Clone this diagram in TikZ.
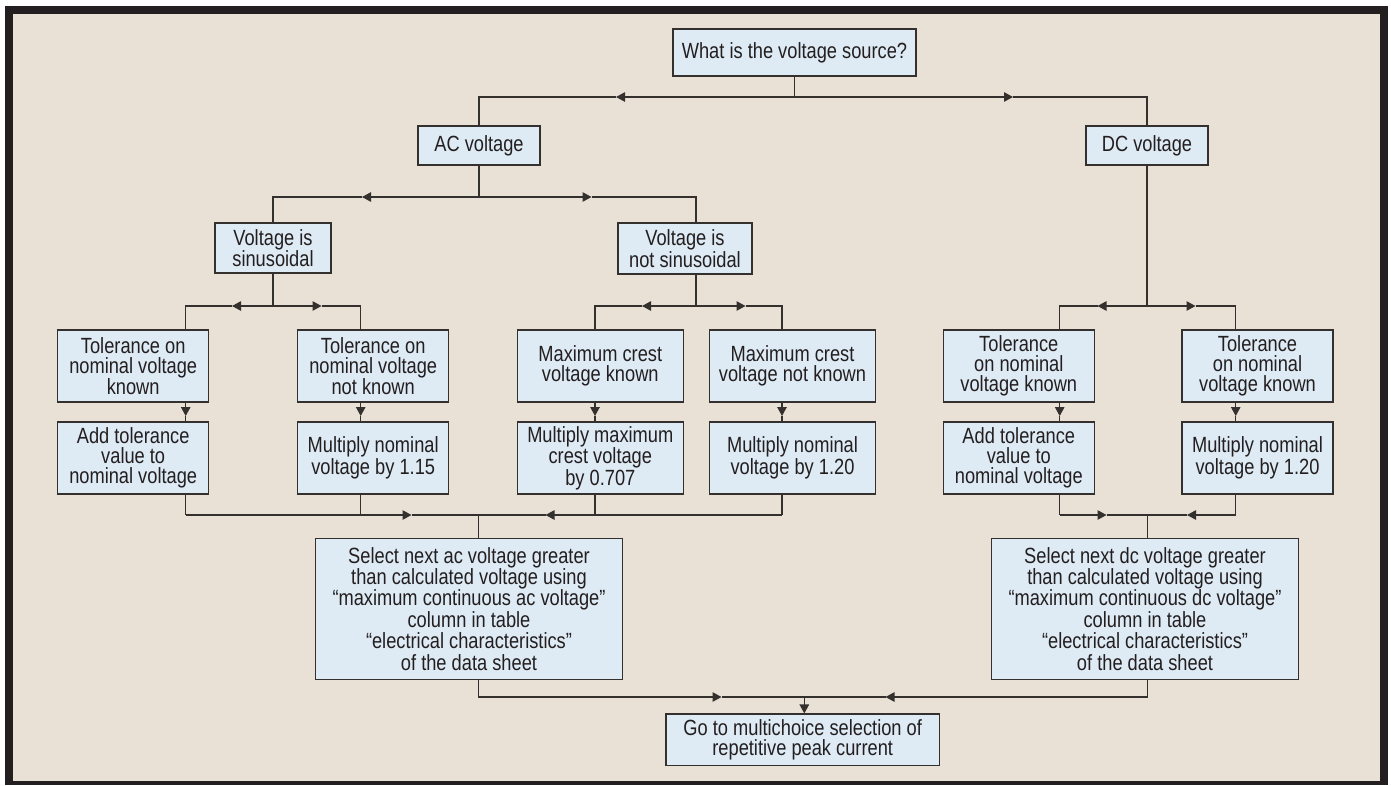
\documentclass[tikz,border=0pt]{standalone}
\usepackage{fontspec}
\setmainfont{Liberation Sans}[FakeStretch=0.83]
\usetikzlibrary{arrows.meta}
\definecolor{bgc}{HTML}{E9E1D6}
\definecolor{boxc}{HTML}{DEEAF4}
\definecolor{linec}{HTML}{33302E}
\definecolor{txtc}{HTML}{231F20}
\begin{document}
\begin{tikzpicture}[x=1pt,y=-1pt,
  box/.style={draw=linec, fill=boxc, line width=1.2pt, inner sep=0pt, align=center, text=txtc, font=\fontsize{22}{20}\selectfont},
  bigbox/.style={box, font=\fontsize{22}{21.4}\selectfont},
  wire/.style={draw=linec, line width=1.1pt},
  arr/.style={wire, -{Triangle[length=9pt,width=9.5pt]}}]
\useasboundingbox (0,0) rectangle (1391,785);
\fill[txtc] (5,6) rectangle (1388,785);
\fill[bgc] (13,14) rectangle (1380,781);

% boxes
\node[box, minimum width=243pt, minimum height=47pt] (q) at (794.5,52.5) {What is the voltage source?};
\node[box, minimum width=122pt, minimum height=39pt] (ac) at (479,145.5) {AC voltage};
\node[box, minimum width=122pt, minimum height=39pt] (dc) at (1147,145.5) {DC voltage};
\node[box, minimum width=116pt, minimum height=50pt] (sin) at (273,248) {Voltage is\\sinusoidal};
\node[box, minimum width=134pt, minimum height=51pt] (nsin) at (685,248.5) {Voltage is\\not sinusoidal};

\node[box, minimum width=151pt, minimum height=72pt] (t1) at (133.2,366) {Tolerance on\\nominal voltage\\known};
\node[box, minimum width=151pt, minimum height=72pt] (t2) at (373.2,366) {Tolerance on\\nominal voltage\\not known};
\node[box, minimum width=166pt, minimum height=72pt] (t3) at (600.3,366) {Maximum crest\\voltage known};
\node[box, minimum width=166pt, minimum height=72pt] (t4) at (792.5,366) {Maximum crest\\voltage not known};
\node[box, minimum width=151pt, minimum height=72pt] (t5) at (1018.8,366) {Tolerance\\on nominal\\voltage known};
\node[box, minimum width=151pt, minimum height=72pt] (t6) at (1257.5,366) {Tolerance\\on nominal\\voltage known};

\node[box, minimum width=151pt, minimum height=72pt] (u1) at (133.2,458) {Add tolerance\\value to\\nominal voltage};
\node[box, minimum width=151pt, minimum height=72pt] (u2) at (373.2,458) {Multiply nominal\\voltage by 1.15};
\node[box, minimum width=166pt, minimum height=72pt] (u3) at (600.3,458) {Multiply maximum\\crest voltage\\by 0.707};
\node[box, minimum width=166pt, minimum height=72pt] (u4) at (792.5,458) {Multiply nominal\\voltage by 1.20};
\node[box, minimum width=151pt, minimum height=72pt] (u5) at (1018.8,458) {Add tolerance\\value to\\nominal voltage};
\node[box, minimum width=151pt, minimum height=72pt] (u6) at (1257.5,458) {Multiply nominal\\voltage by 1.20};

\node[bigbox, minimum width=306.6pt, minimum height=141pt] (acs) at (469,608.8) {Select next ac voltage greater\\than calculated voltage using\\“maximum continuous ac voltage”\\column in table\\“electrical characteristics”\\of the data sheet};
\node[bigbox, minimum width=306.6pt, minimum height=141pt] (dcs) at (1145,608.8) {Select next dc voltage greater\\than calculated voltage using\\“maximum continuous dc voltage”\\column in table\\“electrical characteristics”\\of the data sheet};
\node[box, minimum width=273.3pt, minimum height=51.3pt] (go) at (802.7,739.7) {Go to multichoice selection of\\repetitive peak current};

% junctions and arrow points
\coordinate (j0) at (794.5,97);
\coordinate (a01) at (616,97);
\coordinate (a02) at (1013,97);
\coordinate (j1) at (479,197);
\coordinate (a11) at (362,197);
\coordinate (a12) at (591.5,197);
\coordinate (j2) at (273,306);
\coordinate (a21) at (232,306);
\coordinate (a22) at (321.5,306);
\coordinate (j3) at (696,306);
\coordinate (a31) at (642,306);
\coordinate (a32) at (745.5,306);
\coordinate (j4) at (1147,306);
\coordinate (a41) at (1097.5,306);
\coordinate (a42) at (1195.5,306);
\coordinate (s1) at (185.7,515);
\coordinate (s2) at (360.7,515);
\coordinate (s3) at (595,515);
\coordinate (s4) at (782,515);
\coordinate (s5) at (1059.7,515);
\coordinate (s6) at (1235.7,515);
\coordinate (vy) at (0,416);
\coordinate (j5) at (478.3,515);
\coordinate (m1) at (411.5,515);
\coordinate (m2) at (545.5,515);
\coordinate (j6) at (1147.7,515);
\coordinate (m3) at (1106.5,515);
\coordinate (m4) at (1187,515);
\coordinate (j7) at (804.3,697);
\coordinate (m5) at (721.5,697);
\coordinate (m6) at (885.5,697);

% level 0
\draw[wire] (q.south) -- (j0);
\draw[arr] (j0) -- (a01);
\draw[wire] (a01) -| (ac.north);
\draw[arr] (j0) -- (a02);
\draw[wire] (a02) -| (dc.north);
% AC branch
\draw[wire] (ac.south) -- (j1);
\draw[arr] (j1) -- (a11);
\draw[wire] (a11) -| (sin.north);
\draw[arr] (j1) -- (a12);
\draw[wire] (a12) -| (j3 |- nsin.north);
% sinusoidal
\draw[wire] (sin.south) -- (j2);
\draw[arr] (j2) -- (a21);
\draw[wire] (a21) -| (s1 |- t1.north);
\draw[arr] (j2) -- (a22);
\draw[wire] (a22) -| (s2 |- t2.north);
% not sinusoidal
\draw[wire] (j3 |- nsin.south) -- (j3);
\draw[arr] (j3) -- (a31);
\draw[wire] (a31) -| (s3 |- t3.north);
\draw[arr] (j3) -- (a32);
\draw[wire] (a32) -| (s4 |- t4.north);
% DC
\draw[wire] (dc.south) -- (j4);
\draw[arr] (j4) -- (a41);
\draw[wire] (a41) -| (s5 |- t5.north);
\draw[arr] (j4) -- (a42);
\draw[wire] (a42) -| (s6 |- t6.north);
% row1 -> row2
\foreach \s/\t/\u in {s1/t1/u1, s2/t2/u2, s3/t3/u3, s4/t4/u4, s5/t5/u5, s6/t6/u6}{
  \draw[arr] (\s |- \t.south) -- (\s |- vy);
  \draw[wire] (\s |- vy) -- (\s |- \u.north);
}
% AC merge
\draw[wire] (s1 |- u1.south) -- (s1);
\draw[arr] (s1) -- (m1);
\draw[wire] (m1) -- (j5);
\draw[wire] (s2 |- u2.south) -- (s2);
\draw[wire] (s4 |- u4.south) -- (s4);
\draw[arr] (s4) -- (m2);
\draw[wire] (m2) -- (j5);
\draw[wire] (s3 |- u3.south) -- (s3);
\draw[wire] (j5) -- (j5 |- acs.north);
% DC merge
\draw[wire] (s5 |- u5.south) -- (s5);
\draw[arr] (s5) -- (m3);
\draw[wire] (m3) -- (j6);
\draw[wire] (s6 |- u6.south) -- (s6);
\draw[arr] (s6) -- (m4);
\draw[wire] (m4) -- (j6);
\draw[wire] (j6) -- (j6 |- dcs.north);
% final merge
\draw[arr] (j5 |- acs.south) |- (m5);
\draw[wire] (m5) -- (j7);
\draw[arr] (j6 |- dcs.south) |- (m6);
\draw[wire] (m6) -- (j7);
\draw[arr] (j7) -- (j7 |- go.north);
\end{tikzpicture}
\end{document}
